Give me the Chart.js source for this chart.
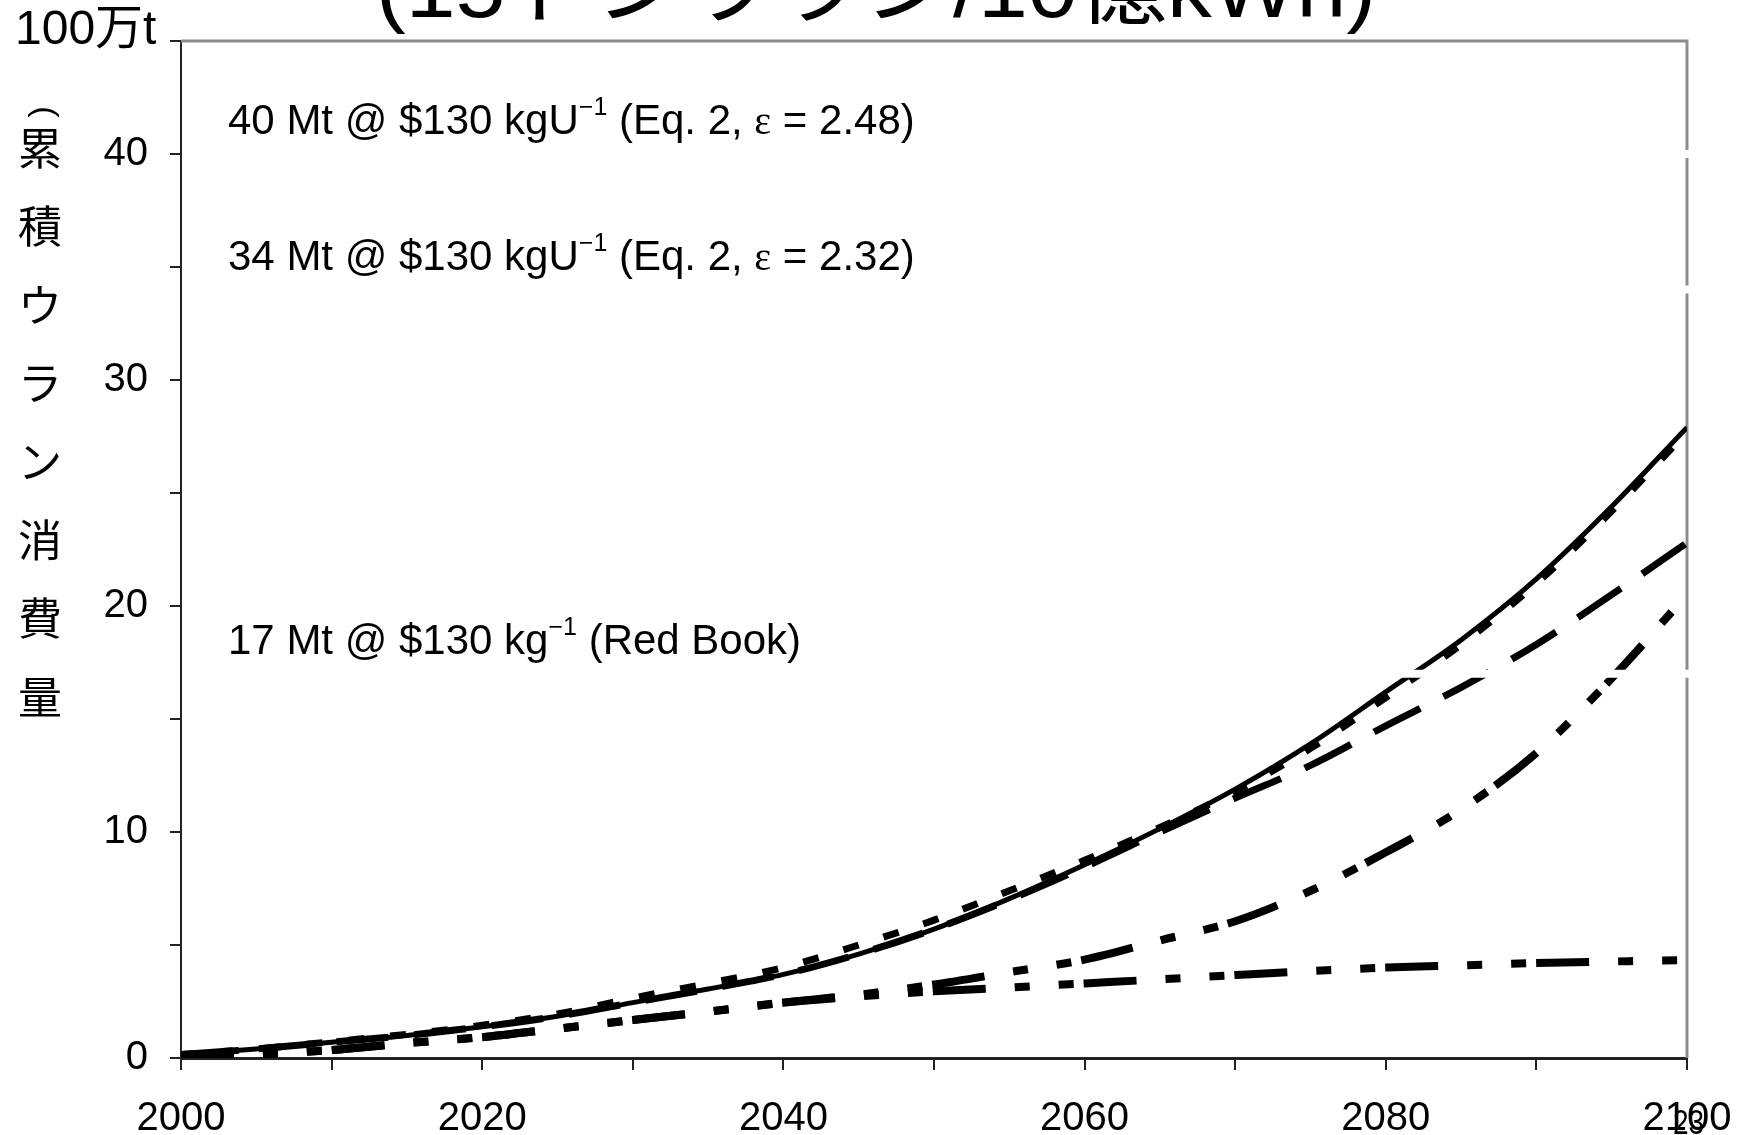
<!DOCTYPE html>
<html>
<head>
<meta charset="utf-8">
<script src="https://cdn.jsdelivr.net/npm/chart.js@4.4.1/dist/chart.umd.min.js"></script>
<style>
  html, body { margin: 0; padding: 0; background: #fff; }
  #graph { display: block; }
</style>
</head>
<body>
<canvas id="graph" width="1744" height="1135"></canvas>
<script>
// données (100万t cumulées)
const years = [2000, 2005, 2010, 2015, 2020, 2025, 2030, 2035, 2040, 2045, 2050,
               2055, 2060, 2065, 2070, 2075, 2080, 2085, 2090, 2095, 2100];
const solidLine = [0.15, 0.4, 0.7, 1.0, 1.38, 1.85, 2.45, 3.05, 3.7, 4.6, 5.7,
                   7.05, 8.55, 10.15, 11.9, 13.9, 16.2, 18.5, 21.2, 24.4, 27.9];
const shortDash = [0.15, 0.4, 0.72, 1.05, 1.45, 1.95, 2.65, 3.3, 4.0, 5.0, 6.1,
                   7.4, 8.75, 10.2, 11.8, 13.7, 15.95, 18.3, 21.0, 24.2, 27.7];
const longDash = [0.15, 0.4, 0.7, 1.0, 1.38, 1.85, 2.45, 3.05, 3.7, 4.6, 5.7,
                  7.0, 8.45, 10.0, 11.5, 12.95, 14.7, 16.4, 18.3, 20.5, 22.8];
const risingDash = [0, 0.15, 0.35, 0.66, 0.92, 1.3, 1.68, 2.05, 2.45, 2.8, 3.25,
                    3.8, 4.35, 5.2, 6.05, 7.4, 9.1, 11.0, 13.5, 16.8, 20.5];
const flatDash = [0, 0.15, 0.35, 0.66, 0.92, 1.3, 1.68, 2.05, 2.45, 2.72, 2.95,
                  3.12, 3.3, 3.48, 3.67, 3.85, 4.0, 4.1, 4.2, 4.27, 4.33];

// lignes blanches de réserve + textes
const limitValues = [40, 34, 17];
const limitLabels = [
    ['40 Mt @ $130 kgU', '−1', ' (Eq. 2, ', 'ε', ' = 2.48)'],
    ['34 Mt @ $130 kgU', '−1', ' (Eq. 2, ', 'ε', ' = 2.32)'],
    ['17 Mt @ $130 kg', '−1', ' (Red Book)']
];

const titleText = '(15トンウラン/10億kWh)';
const unitText = '100万t';
const yTitleChars = ['累', '積', 'ウ', 'ラ', 'ン', '消', '費', '量'];
const pageNumber = '23';

const yMin = 0, yMax = 45, yStep = 5;
const xMin = 2000, xMax = 2100, xStep = 10;

const toPoints = (values) => values.map((v, i) => ({ x: years[i], y: v }));

const SANS = '"Liberation Sans", Arial';
const CJK = '"Noto Sans CJK JP", "Noto Sans CJK SC", sans-serif';

const curve = (data, width, dash) => ({
    data: toPoints(data),
    borderColor: '#000',
    borderWidth: width,
    borderDash: dash,
    borderCapStyle: 'butt',
    pointRadius: 0,
    cubicInterpolationMode: 'monotone',
    fill: false
});

const datasets = [
    curve(solidLine, 5, []),
    curve(shortDash, 7, [16, 26]),
    curve(longDash, 7, [52, 26]),
    curve(risingDash, 8, [53, 29, 15, 29, 15, 10]),
    curve(flatDash, 8, [53, 29, 15, 29, 15, 10])
];
limitValues.forEach((v) => {
    datasets.push({
        data: [{ x: xMin, y: v }, { x: xMax, y: v }],
        borderColor: '#fff',
        borderWidth: 8,
        borderCapStyle: 'square',
        pointRadius: 0,
        order: -1,
        clip: { left: -1, right: 6, top: 6, bottom: 6 }
    });
});

/**
 * Écrit un texte en morceaux (exposant, epsilon)
 */
const drawParts = (ctx, parts, x, y) => {
    parts.forEach((p) => {
        let font = '42px ' + SANS;
        let dy = 0;
        if (p === '−1') { font = '25px ' + SANS; dy = -19; }
        if (p === 'ε') { font = '40px "Liberation Serif", serif'; }
        ctx.font = font;
        ctx.fillText(p, x, y + dy);
        x += ctx.measureText(p).width;
    });
};

const decor = {
    id: 'decor',
    beforeDatasetsDraw(chart) {
        const { ctx, chartArea: a } = chart;
        // bord gris haut / droite
        ctx.save();
        ctx.strokeStyle = '#8c8c8c';
        ctx.lineWidth = 3;
        ctx.beginPath();
        ctx.moveTo(a.left, a.top);
        ctx.lineTo(a.right, a.top);
        ctx.lineTo(a.right, a.bottom);
        ctx.stroke();
        ctx.restore();
    },
    afterDraw(chart) {
        const { ctx, chartArea: a } = chart;
        const yScale = chart.scales.y;
        ctx.save();
        ctx.fillStyle = '#000';
        ctx.textBaseline = 'alphabetic';
        ctx.textAlign = 'left';

        // titre coupé en haut
        ctx.save();
        ctx.font = '84px ' + SANS + ', ' + CJK;
        const w = ctx.measureText(titleText).width;
        ctx.translate(376, 17);
        ctx.scale(1000 / w, 1);
        ctx.fillText(titleText, 0, 0);
        ctx.restore();

        // unité
        ctx.font = '48px ' + SANS + ', ' + CJK;
        ctx.fillText(unitText, 15, 44);

        // titre vertical : parenthèse couchée puis les caractères
        ctx.textAlign = 'center';
        ctx.textBaseline = 'middle';
        ctx.save();
        ctx.translate(44, 112);
        ctx.rotate(Math.PI / 2);
        ctx.font = '34px ' + SANS;
        ctx.fillText('(', 0, 0);
        ctx.restore();
        ctx.font = '44px ' + CJK;
        yTitleChars.forEach((c, i) => {
            ctx.fillText(c, 40, 148 + i * 78.4);
        });

        // annotations
        ctx.textAlign = 'left';
        ctx.textBaseline = 'alphabetic';
        limitValues.forEach((v, i) => {
            drawParts(ctx, limitLabels[i], a.left + 47, yScale.getPixelForValue(v) - 20);
        });

        // numéro de page (étroit)
        ctx.save();
        ctx.translate(1673, 1134);
        ctx.scale(0.8, 1);
        ctx.font = '35px ' + SANS;
        ctx.fillText(pageNumber, 0, 0);
        ctx.restore();
        ctx.restore();
    }
};

new Chart(document.getElementById('graph'), {
    type: 'line',
    data: { datasets },
    plugins: [decor],
    options: {
        responsive: false,
        animation: false,
        devicePixelRatio: 1,
        layout: { padding: { top: 41, right: 57, left: 0, bottom: 0 } },
        plugins: { legend: { display: false }, tooltip: { enabled: false } },
        scales: {
            x: {
                type: 'linear',
                min: xMin,
                max: xMax,
                afterFit: (scale) => {
                    scale.height = 77;
                    scale.paddingLeft = 0;
                    scale.paddingRight = 0;
                },
                border: { color: '#222', width: 3 },
                grid: { drawOnChartArea: false, drawTicks: true, tickLength: 12, color: '#222', lineWidth: 2 },
                ticks: {
                    stepSize: xStep,
                    autoSkip: false,
                    maxRotation: 0,
                    padding: 25,
                    color: '#000',
                    font: { family: SANS, size: 40 },
                    callback: (v) => (v % 20 === 0 ? String(v) : '')
                }
            },
            y: {
                min: yMin,
                max: yMax,
                afterFit: (scale) => {
                    scale.width = 181;
                    scale.paddingTop = 0;
                    scale.paddingBottom = 0;
                },
                border: { color: '#222', width: 2 },
                grid: { drawOnChartArea: false, drawTicks: true, tickLength: 11, color: '#222', lineWidth: 2 },
                ticks: {
                    stepSize: yStep,
                    autoSkip: false,
                    padding: 22,
                    color: '#000',
                    font: { family: SANS, size: 40 },
                    callback: (v) => (v % 10 === 0 ? String(v) : '')
                }
            }
        }
    }
});
</script>
</body>
</html>
